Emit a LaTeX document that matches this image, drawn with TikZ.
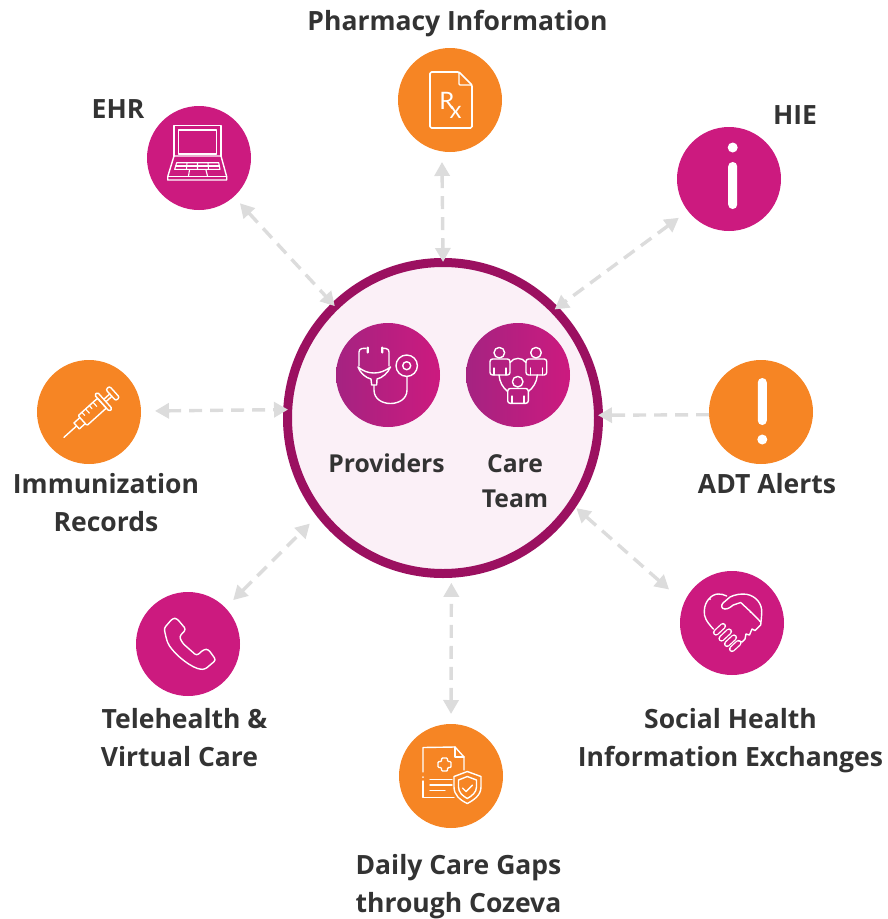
\documentclass[tikz,border=0pt]{standalone}
\usepackage{fontspec}
\setmainfont{Open Sans}
\newfontfamily\rxfont{Lato}
\usetikzlibrary{arrows.meta}
\definecolor{magball}{HTML}{CC1A7F}
\definecolor{orgball}{HTML}{F68524}
\definecolor{magleft}{HTML}{A52381}
\definecolor{ring}{HTML}{9B1060}
\definecolor{hubfill}{HTML}{FBF0F7}
\definecolor{linkgray}{HTML}{DCDCDC}
\definecolor{labelgray}{HTML}{333333}
\tikzset{
  ball/.style={circle,draw=none,inner sep=0pt,outer sep=0pt,minimum size=104pt},
  magnode/.style={ball,fill=magball},
  orgnode/.style={ball,fill=orgball},
  gradnode/.style={ball,left color=magleft,right color=magball},
  hubnode/.style={circle,draw=ring,line width=9pt,fill=hubfill,inner sep=0pt,minimum size=311pt},
  label/.style={text=labelgray,font=\fontsize{26.5}{38}\selectfont\bfseries,align=center,inner sep=0pt},
  innerlabel/.style={text=labelgray,font=\fontsize{24.7}{35}\selectfont\bfseries,align=center,inner sep=0pt},
  link/.style={draw=linkgray,line width=3.4pt,dash pattern=on 13pt off 8pt},
  both/.style={link,{Triangle[length=14pt,width=15pt]}-{Triangle[length=14pt,width=15pt]}},
  single/.style={link,-{Triangle[length=14pt,width=15pt]}},
  icon/.style={draw=white,line width=1.4pt,line join=round,line cap=round},
  solidmark/.style={fill=white,draw=none},
  finger/.style={draw=white,line width=1.3pt,double=magball,double distance=3.6pt,line cap=round}
}
\begin{document}
\begin{tikzpicture}[x=1pt,y=-1pt]
\useasboundingbox (0,0) rectangle (887,919);
% nodes
\node[hubnode] (hub) at (443,418) {};
\node[orgnode] (pharm) at (450,100) {};
\node[magnode] (ehr) at (199,158) {};
\node[magnode] (hie) at (729,179) {};
\node[orgnode] (adt) at (761,412) {};
\node[orgnode] (imm) at (89,412) {};
\node[magnode] (tele) at (188,644) {};
\node[orgnode] (gaps) at (451,776) {};
\node[magnode] (social) at (732,623) {};
\node[gradnode] (prov) at (388,375) {};
\node[gradnode] (team) at (518,375) {};
% labels
\node[label] (tpharm) at (457.5,24) {Pharmacy Information};
\node[label] (tehr) at (118,109) {EHR};
\node[label] (thie) at (795,115) {HIE};
\node[label] (tadt) at (767,484) {ADT Alerts};
\node[label] (timm) at (106,503) {Immunization\\Records};
\node[label] (ttele) at (184.5,738) {Telehealth \&\\Virtual Care\kern 10pt};
\node[label] (tsocial) at (730.5,741) {Social Health\\Information Exchanges};
\node[label] (tgaps) at (458.5,887) {Daily Care Gaps\\through Cozeva};
\node[innerlabel] (tprov) at (386.5,463) {Providers};
\node[innerlabel] (tteam) at (515,481) {Care\\Team};
% connectors
\draw[both,shorten <=10.6pt,shorten >=-4pt] (pharm.261) -- (hub.90.4);
\draw[both,shorten <=9pt,shorten >=-4.4pt] (ehr.312.4) -- (hub.134.9);
\draw[both,shorten <=11.4pt,shorten >=-4.4pt] (hie.218.4) -- (hub.44.7);
\draw[single,shorten >=-5pt] (adt.183.3) -- (hub.1.07);
\draw[both,shorten <=14pt,shorten >=-4.8pt] (imm.1.1) -- (hub.177.5);
\draw[both,shorten <=11pt,shorten >=10pt] (tele.44.3) -- (hub.218.2);
\draw[both,shorten <=10pt,shorten >=5pt] (gaps.north) -- (hub.273.6);
\draw[both,shorten <=20pt,shorten >=1pt] (social.157.8) -- (hub.326.4);
% Rx document icon
\draw[icon,line width=1.7pt,rounded corners=1.5pt] (459,72) -- (430,72) -- (430,128) -- (472,128) -- (472,85) -- cycle;
\draw[icon,rounded corners=1pt] (459,72) -- (459,85) -- (472,85);
\node[text=white,inner sep=0pt,font=\rxfont\fontsize{24}{24}\selectfont] (rx) at (450.5,105) {R\kern-.2em\raisebox{-9pt}{x}};
% laptop icon
\draw[icon] (174,156) -- (174,125.7) -- (221,125.7) -- (221,156);
\draw[icon] (178.7,130) rectangle (216.7,154);
\draw[icon] (174,156) -- (221,156) -- (226.7,176.7) -- (226.7,180) -- (167.7,180) -- (167.7,176.7) -- cycle;
\draw[icon,line width=1.1pt] (167.7,176.7) -- (226.7,176.7);
\draw[icon,line width=1.1pt] (176.7,162.7) -- (218.7,162.7) -- (220,169.3) -- (174.7,169.3) -- cycle;
\draw[icon,line width=1.1pt] (175.7,166) -- (219.3,166);
\draw[icon,line width=1.1pt] (187,162.7) -- (186.5,169.3) (197.5,162.7) -- (197.5,169.3) (208,162.7) -- (208.5,169.3);
\draw[icon,line width=1.1pt] (189.5,170) -- (188.5,176) (206,170) -- (207.5,176);
% information mark
\fill[solidmark] (732.7,147.5) circle (5pt);
\fill[solidmark,rounded corners=4.4pt] (728.2,162) rectangle (737.2,209);
% alert mark
\fill[solidmark,rounded corners=4.4pt] (757.8,378) rectangle (766.8,425);
\fill[solidmark] (762.3,439.5) circle (5pt);
% syringe icon
\begin{scope}[shift={(64,437.3)},rotate=42]
\draw[icon] (0,0) -- (17,0);
\draw[icon] (25,-4) -- (17,-4) -- (17,4) -- (25,4);
\draw[icon,rounded corners=1pt] (25,-6.6) rectangle (51,6.6);
\draw[icon,rounded corners=1.5pt] (51,-11) rectangle (55,11);
\draw[icon] (55,-1.6) -- (63,-1.6) (55,1.6) -- (63,1.6);
\draw[icon,rounded corners=2pt] (63,-7.5) rectangle (68,7.5);
\draw[icon,line width=1.1pt] (30,-6.6) -- (30,-2.5) (35,-6.6) -- (35,-1) (40,-6.6) -- (40,-2.5) (45,-6.6) -- (45,-1);
\end{scope}
% phone icon
\draw[icon,rounded corners=2.6pt] (164,628.3) -- (172.7,618.3) -- (176.7,618.3) -- (186,629.3) -- (179.3,636.7)
  -- (182.7,643.3) -- (196.7,655.7) -- (204,649.3) -- (208.3,649.3) -- (216,660) -- (205,669.3) -- (200,669.3)
  .. controls (187,665) and (171,651) .. (166.7,640) -- cycle;
% stethoscope icon
\fill[solidmark,rounded corners=1pt] (366.6,346.5) rectangle (368.8,353.5);
\fill[solidmark,rounded corners=1pt] (381.2,346.5) rectangle (383.4,353.5);
\draw[icon] (366,348.3) -- (362,348.5) .. controls (360,349) and (359,350) .. (359,352) -- (359,366);
\draw[icon] (383.5,348.3) -- (386,348.5) .. controls (388,349) and (389,350) .. (389,352) -- (389,366);
\draw[icon] (358,367) .. controls (363,371) and (368,373) .. (374,373) .. controls (380,373) and (385,371) .. (390.5,367)
  .. controls (388,373) and (382,378) .. (377,379) -- (376.7,385) -- (371.7,385) -- (371,379) .. controls (366,378) and (360,373) .. (358,367) -- cycle;
\draw[icon] (374,385) -- (374,390) .. controls (374,408) and (407,408) .. (407,390) -- (407,376.5);
\draw[icon] (406.7,365.7) circle (10.7pt);
\draw[icon] (406.7,365.7) circle (4pt);
% care team icon
\draw[icon] (499.3,352.7) circle (5.3pt);
\draw[icon] (536,352.7) circle (5.3pt);
\draw[icon] (517.7,381.7) circle (5.3pt);
\draw[icon,rounded corners=2.5pt] (490,375) -- (490,359) -- (510,359) -- (510,375) -- cycle;
\draw[icon,rounded corners=2.5pt] (526,375) -- (526,359) -- (546.7,359) -- (546.7,375) -- cycle;
\draw[icon,rounded corners=2.5pt] (507.7,403.3) -- (507.7,388.5) -- (528.3,388.5) -- (528.3,403.3) -- cycle;
\draw[icon,line width=1.1pt] (494,375) -- (494,368) (506,375) -- (506,368) (530.5,375) -- (530.5,368) (542.5,375) -- (542.5,368) (512,403.3) -- (512,396) (524,403.3) -- (524,396);
\draw[icon] (510,362.5) .. controls (514,357) and (522,357) .. (526,362.5);
\draw[icon] (499,375) .. controls (499.5,382) and (503,388) .. (507.7,391.5);
\draw[icon] (537.3,375) .. controls (537,382) and (533,388) .. (528.3,391.5);
% care-gaps document and shield icon
\draw[icon] (423,772) -- (423,747.5) -- (455,747) -- (464,757) -- (464,770);
\draw[icon] (455,747) -- (455,757) -- (464,757);
\draw[icon] (423,777) -- (423,777.2);
\draw[icon] (423,781) -- (423,797.5) -- (454,797.5);
\draw[icon] (430,779.5) -- (452,779.5) (430,785) -- (452,785) (430,790.5) -- (445,790.5);
\draw[icon,rounded corners=1pt] (441.5,758) -- (447.5,758) -- (447.5,761.5) -- (451,761.5) -- (451,767.5) -- (447.5,767.5) -- (447.5,771) -- (441.5,771) -- (441.5,767.5) -- (438,767.5) -- (438,761.5) -- (441.5,761.5) -- cycle;
\draw[icon] (467.3,771.5) -- (481,776.5) -- (481,787) .. controls (481,795) and (474,800) .. (467.3,803.5) .. controls (460,800) and (454,795) .. (454,787) -- (454,776.5) -- cycle;
\draw[icon] (467.3,776.5) -- (476.5,780) -- (476.5,787) .. controls (476.5,792) and (472,796) .. (467.3,798.5) .. controls (462.5,796) and (458.5,792) .. (458.5,787) -- (458.5,780) -- cycle;
\draw[icon] (462.5,788) -- (466,791.5) -- (472.5,785);
% handshake heart icon
\draw[icon] (713.3,629) .. controls (706,621) and (704,617) .. (704.3,611) .. controls (704.5,601) and (712,594) .. (718,594) .. controls (721,594) and (724,594.5) .. (726.7,596);
\fill[solidmark] (710,599) circle (1pt);
\draw[icon] (725,609) .. controls (729,609) and (731,606.5) .. (733.3,605) -- (740.7,602.5) -- (752,613) -- (760.7,622);
\draw[icon] (725,609) .. controls (721,609) and (721,605) .. (723,603) -- (730,597) .. controls (735,594.5) and (741,593.5) .. (746.7,594.3) .. controls (756,596) and (762.5,604) .. (761.7,613) .. controls (761.5,618) and (761,621) .. (760.7,625);
\fill[solidmark] (750.5,612) circle (1pt);
\draw[icon] (760.7,625) -- (755,630.5) -- (752,629) -- (749.5,635) -- (746,634) -- (745,639) -- (742,642) -- (739,641);
\draw[icon] (739,645) -- (730.5,650.5) -- (733,648);
\draw[finger] (716,632.5) -- (723,626);
\draw[finger] (721.5,638.5) -- (729,631.5);
\draw[finger] (727,644) -- (734,637.5);
\draw[finger] (732,649) -- (738.5,643);
\end{tikzpicture}
\end{document}
